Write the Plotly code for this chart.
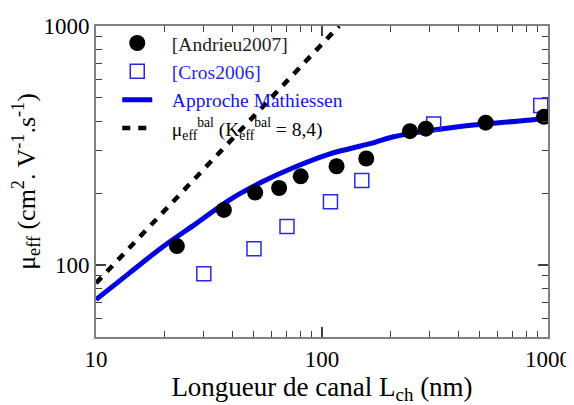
import plotly.graph_objects as go

# channel length (nm) / effective mobility (cm2/V/s)
andrieu_L = [22.8, 36.8, 50.6, 64.6, 80.5, 116, 157, 245, 288, 530, 960]
andrieu_mu = [120, 170, 201, 210, 235, 259, 279, 363, 372, 394, 417]

cros_L = [30, 50, 70, 109, 150, 312, 929]
cros_mu = [92, 117, 145, 184, 226, 389, 465]

mathiessen_L = [10, 14.0, 19.7, 27.7, 39.2, 55.0, 77.3, 108.5, 163, 207, 408, 953, 1000]
mathiessen_mu = [71.7, 92.3, 119, 149, 188, 224, 259, 292, 322, 344, 380, 409, 412]

bal_L = [10, 119]
bal_mu = [84, 1000]

x_minor = [20, 30, 40, 50, 60, 70, 80, 90, 200, 300, 400, 500, 600, 700, 800, 900]
y_minor = [60, 70, 80, 90, 200, 300, 400, 500, 600, 700, 800, 900]

serif = "Liberation Serif, Times New Roman, serif"
blue = "rgb(0,0,225)"
sp = "&nbsp;" * 3

fig = go.Figure()

fig.add_trace(go.Scatter(
    x=mathiessen_L, y=mathiessen_mu, mode="lines", line_shape="spline",
    name=sp + '<span style="color:rgb(20,20,230)">Approche Mathiessen</span>',
    line=dict(color=blue, width=5), legendrank=3, legendgroup="c"))

fig.add_trace(go.Scatter(
    x=bal_L, y=bal_mu, mode="lines",
    name=sp + "μ<sub>eff</sub><sup>bal</sup> (K<sub>eff</sub><sup>bal</sup> = 8,4)",
    line=dict(color="black", width=4.5, dash="8px,8px"), legendrank=4, legendgroup="d"))

fig.add_trace(go.Scatter(
    x=cros_L, y=cros_mu, mode="markers",
    name=sp + '<span style="color:rgb(40,40,225)">[Cros2006]</span>',
    marker=dict(symbol="square-open", size=14, color="rgb(40,40,230)", line=dict(width=1.5)),
    legendrank=2, legendgroup="b"))

fig.add_trace(go.Scatter(
    x=andrieu_L, y=andrieu_mu, mode="markers",
    name=sp + '<span style="color:#222">[Andrieu2007]</span>',
    marker=dict(symbol="circle", size=16, color="black"), legendrank=1, legendgroup="a"))

axis_common = dict(
    type="log", showgrid=False, zeroline=False, automargin=False,
    showline=True, linecolor="#808080", linewidth=2, mirror="allticks",
    ticks="inside", ticklen=10, tickwidth=1.5, tickcolor="#404040",
    tickfont=dict(family=serif, size=23, color="black"),
)

# the page body adds an 8px offset, so the margins are shifted to compensate
fig.update_layout(
    width=574, height=405,
    margin=dict(l=88, r=34, t=18, b=76),
    plot_bgcolor="white", paper_bgcolor="white",
    font=dict(family=serif, color="black"),
    showlegend=True,
    legend=dict(x=0.047, y=1.007, xanchor="left", yanchor="top",
                bgcolor="rgba(0,0,0,0)", font=dict(family=serif, size=19.5, color="black"),
                tracegroupgap=4, traceorder="normal"),
    xaxis=dict(axis_common, range=[1, 3], tickvals=[10, 100, 1000],
               minor=dict(tickvals=x_minor, ticks="inside", ticklen=6, tickwidth=1.2,
                          tickcolor="#404040", showgrid=False),
               title=dict(text="Longueur de canal L<sub>ch</sub> (nm)",
                          font=dict(family=serif, size=27), standoff=2)),
    yaxis=dict(axis_common, range=[1.699, 3], tickvals=[100, 1000],
               minor=dict(tickvals=y_minor, ticks="inside", ticklen=6, tickwidth=1.2,
                          tickcolor="#404040", showgrid=False),
               title=dict(text="μ<sub>eff</sub> (cm<sup>2</sup>. V<sup>-1</sup>.s<sup>-1</sup>)",
                          font=dict(family=serif, size=26), standoff=6)),
)

fig.write_html("out.html")
